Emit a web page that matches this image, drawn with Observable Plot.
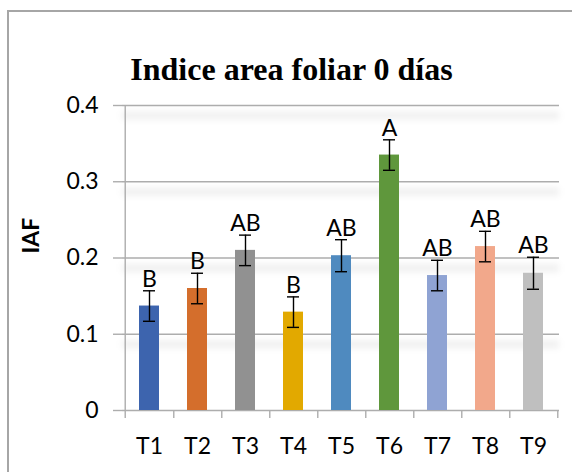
<!DOCTYPE html>
<html>
<head>
<meta charset="utf-8">
<script src="https://cdn.jsdelivr.net/npm/d3@7"></script>
<script src="https://cdn.jsdelivr.net/npm/@observablehq/plot@0.6"></script>
<style>
  body { margin: 0; background: #fff; }
  #wrap { position: relative; width: 572px; height: 472px; overflow: hidden; }
  #frame { position: absolute; left: 7px; top: 10px; width: 800px; height: 800px;
           border-left: 2px solid #a6a6a6; border-top: 2px solid #a6a6a6; }
  #chart { position: absolute; left: 0; top: 0; }
</style>
</head>
<body>
<div id="wrap"><div id="frame"></div><div id="chart"></div></div>
<script>
const title = "Indice area foliar 0 días";
const yTitle = "IAF";
const categories = ["T1", "T2", "T3", "T4", "T5", "T6", "T7", "T8", "T9"];
const means = [0.137, 0.160, 0.210, 0.129, 0.203, 0.335, 0.177, 0.215, 0.180];
const errors = [0.020, 0.020, 0.020, 0.020, 0.021, 0.020, 0.020, 0.020, 0.021];
const letters = ["B", "B", "AB", "B", "AB", "A", "AB", "AB", "AB"];
const colors = ["#3d64ae", "#d46e2c", "#919191", "#e2a900", "#4f8abf", "#5f973c", "#8fa3d3", "#f2a88b", "#bfbfbf"];
const yTicks = [0, 0.1, 0.2, 0.3, 0.4];
const yTickLabels = ["0", "0.1", "0.2", "0.3", "0.4"];

const data = categories.map((c, i) => ({
  cat: c, mean: means[i], lo: means[i] - errors[i], hi: means[i] + errors[i], letter: letters[i]
}));

const W = 572, H = 472, mL = 122, mR = 13, mT = 105, mB = 62;
const step = (W - mL - mR) / categories.length;
const gridCol = "#adadad";

const plot = Plot.plot({
  width: W, height: H,
  marginLeft: mL, marginRight: mR, marginTop: mT, marginBottom: mB,
  style: { fontFamily: "Lato", background: "transparent", overflow: "visible" },
  x: { domain: categories, paddingInner: 0.59, paddingOuter: 0.295, axis: null },
  y: { domain: [0, 0.4], axis: null },
  color: { domain: categories, range: colors },
  marks: [
    Plot.ruleY(yTicks.slice(1), { dy: 10, stroke: "#000", strokeOpacity: 0.06, strokeWidth: 8, imageFilter: "blur(3px)" }),
    Plot.ruleY(yTicks, { stroke: gridCol, strokeWidth: 1.4 }),
    Plot.ruleX([categories[0]], { x: d => d, dx: -step / 2, y1: 0.4, y2: 0, insetBottom: -8, stroke: gridCol, strokeWidth: 1.4 }),
    Plot.ruleX(categories, { x: d => d, dx: step / 2, y1: 0, y2: 0, insetBottom: -8, stroke: gridCol, strokeWidth: 1.4 }),
    Plot.axisY({ ticks: yTicks, tickFormat: d => yTickLabels[yTicks.indexOf(d)], tickSize: 9, tickPadding: 15,
                 fontSize: 23, stroke: gridCol, strokeWidth: 1.4, fill: "#000", label: null }),
    Plot.axisX({ tickSize: 0, tickPadding: 27, fontSize: 23, fill: "#000", label: null }),
    Plot.barY(data, { x: "cat", y: "mean", fill: "cat" }),
    Plot.ruleX(data, { x: "cat", y1: "lo", y2: "hi", stroke: "#000", strokeWidth: 1.4 }),
    Plot.tickY(data, { x: "cat", y: "lo", stroke: "#000", strokeWidth: 1.4, inset: 4 }),
    Plot.tickY(data, { x: "cat", y: "hi", stroke: "#000", strokeWidth: 1.4, inset: 4 }),
    Plot.text(data, { x: "cat", y: "hi", text: "letter", dy: -11.5, fontSize: 23, fill: "#000" }),
    Plot.text([yTitle], { text: d => d, frameAnchor: "left", dx: -91, dy: -4.5, rotate: -90,
                          fontSize: 23, fontWeight: "bold", fill: "#000" }),
    Plot.text([title], { text: d => d, frameAnchor: "top", dx: -49.5, dy: -48, fontSize: 32,
                         fontWeight: "bold", fontFamily: "Liberation Serif", fill: "#000" })
  ]
});

const sh = plot.querySelector('g[aria-label="rule"]');
if (sh) sh.style.filter = "blur(3px)";
document.getElementById("chart").appendChild(plot);
</script>
</body>
</html>
